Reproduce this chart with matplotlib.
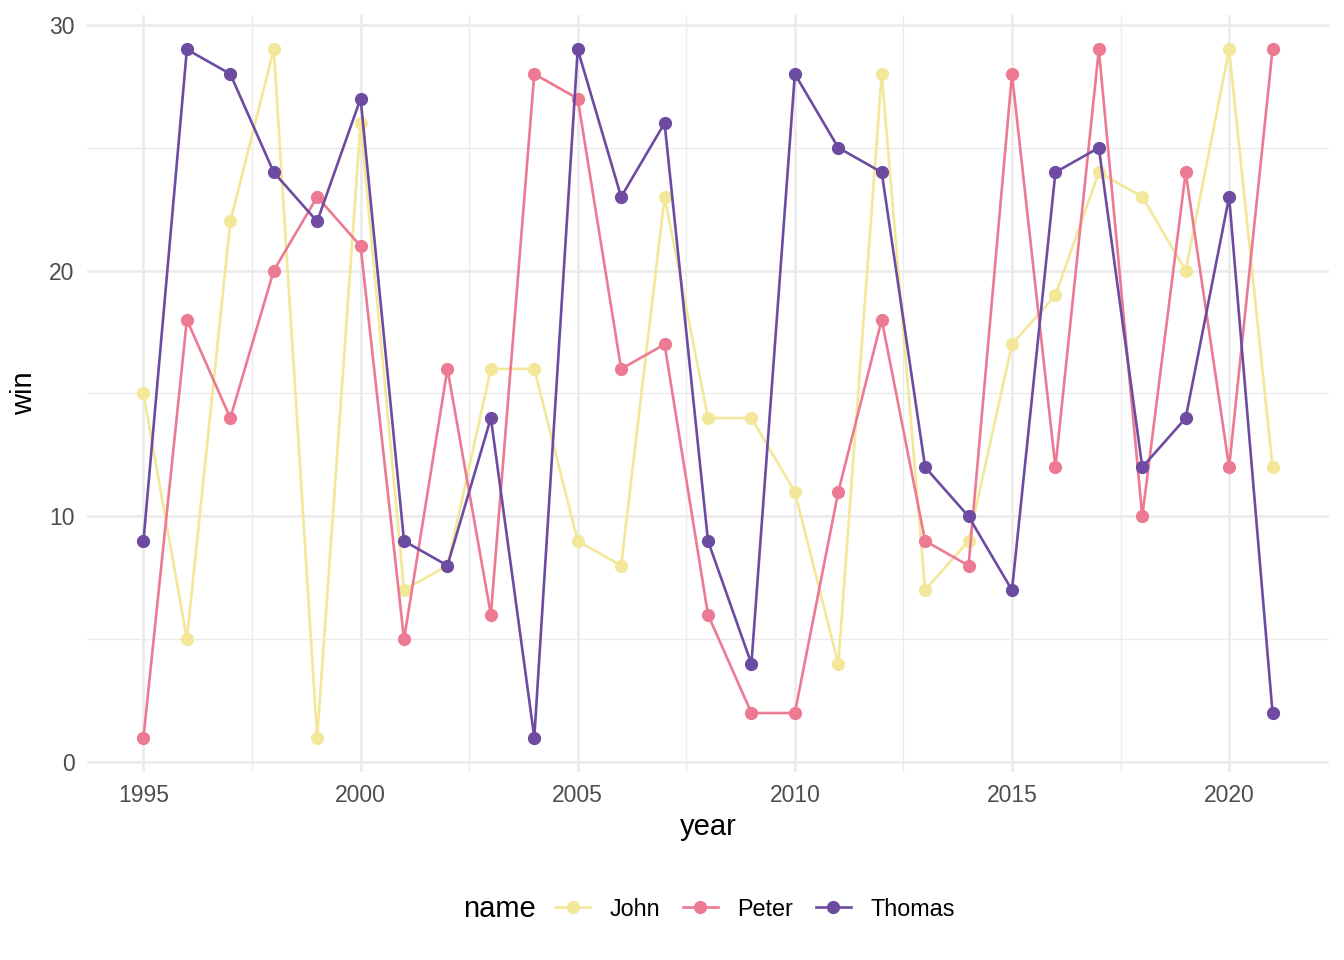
import matplotlib.pyplot as plt
from matplotlib.ticker import MultipleLocator

plt.rcParams["font.family"] = ["Liberation Sans", "DejaVu Sans"]

years = list(range(1995, 2022))
john = [15, 5, 22, 29, 1, 26, 7, 8, 16, 16, 9, 8, 23, 14, 14, 11, 4, 28, 7, 9,
        17, 19, 24, 23, 20, 29, 12]
peter = [1, 18, 14, 20, 23, 21, 5, 16, 6, 28, 27, 16, 17, 6, 2, 2, 11, 18, 9, 8,
         28, 12, 29, 10, 24, 12, 29]
thomas = [9, 29, 28, 24, 22, 27, 9, 8, 14, 1, 29, 23, 26, 9, 4, 28, 25, 24, 12, 10,
          7, 24, 25, 12, 14, 23, 2]

names = ["John", "Peter", "Thomas"]
series = [john, peter, thomas]
colors = ["#F3E79A", "#EC7A92", "#6D4BA1"]

fig = plt.figure(figsize=(13.44, 9.6), dpi=100)
ax = fig.add_axes([87 / 1344, 1 - 772 / 960, (1329 - 87) / 1344, (772 - 15) / 960])

handles = []
for name, vals, c in zip(names, series, colors):
    h, = ax.plot(years, vals, color=c, lw=1.9, marker="o", markersize=8.5,
                 label=name, zorder=3)
    handles.append(h)

ax.set_xlim(1993.7, 2022.3)
ax.set_ylim(-0.4, 30.4)
ax.xaxis.set_major_locator(MultipleLocator(5))
ax.xaxis.set_minor_locator(MultipleLocator(2.5))
ax.yaxis.set_major_locator(MultipleLocator(10))
ax.yaxis.set_minor_locator(MultipleLocator(5))
ax.grid(True, which="major", color="#EBEBEB", lw=1.9)
ax.grid(True, which="minor", color="#EBEBEB", lw=0.95)
ax.set_axisbelow(True)
for s in ax.spines.values():
    s.set_visible(False)
ax.tick_params(which="both", length=0, labelsize=16.5, labelcolor="#4D4D4D")
ax.tick_params(axis="x", pad=9)
ax.tick_params(axis="y", pad=9)

ax.set_xlabel("year", fontsize=21, labelpad=4)
ax.set_ylabel("win", fontsize=21, labelpad=8)

fig.text(499 / 1344, 1 - 909 / 960, "name", fontsize=21, ha="center", va="center")
fig.legend(handles=handles, loc="center left", bbox_to_anchor=(555 / 1344, 1 - 909 / 960),
           ncol=3, frameon=False, fontsize=16.8, handlelength=1.5,
           columnspacing=0.95, handletextpad=0.85, borderaxespad=0, borderpad=0)

fig.savefig("out.png", dpi=100)
